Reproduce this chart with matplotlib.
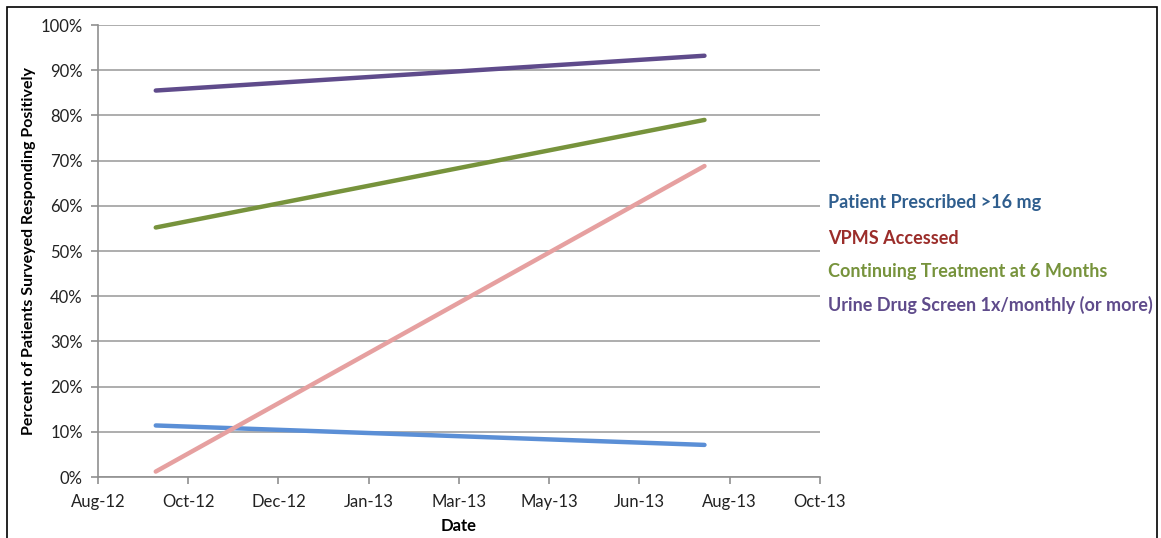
import matplotlib
matplotlib.use("Agg")
import matplotlib.pyplot as plt
import matplotlib.dates as mdates
import numpy as np
import datetime as dt

# ---- data ----
dates = [dt.date(2012, 9, 30), dt.date(2013, 7, 31)]
series_names = ["Patient Prescribed >16 mg", "VPMS Accessed",
                "Continuing Treatment at 6 Months",
                "Urine Drug Screen 1x/monthly (or more)"]
prescribed_16mg = [0.114, 0.071]
vpms_accessed = [0.012, 0.688]
continuing_6mo = [0.552, 0.790]
urine_screen = [0.855, 0.932]
y_ticks = [0.0, 0.1, 0.2, 0.3, 0.4, 0.5, 0.6, 0.7, 0.8, 0.9, 1.0]
x_start = dt.date(2012, 8, 29)
x_step_days = 50
n_x_ticks = 9

line_colors = ["#5B8FD6", "#E6A0A0", "#77933C", "#5F4B8B"]
text_colors = ["#2F5E8E", "#9B2D2A", "#77933C", "#5F4B8B"]

plt.rcParams['font.family'] = ['Lato', 'DejaVu Sans']

fig = plt.figure(figsize=(11.61, 5.38), dpi=100)
ax = fig.add_axes([98/1161, 1-477/538, (820-98)/1161, (477-25)/538])

all_series = [prescribed_16mg, vpms_accessed, continuing_6mo, urine_screen]
for vals, c in zip(all_series, line_colors):
    ax.plot(dates, vals, color=c, lw=3.2, solid_capstyle='round', zorder=3)

xticks = [x_start + dt.timedelta(days=x_step_days * i) for i in range(n_x_ticks)]
ax.set_xlim(xticks[0], xticks[-1])
ax.set_xticks(xticks)
ax.xaxis.set_major_formatter(mdates.DateFormatter('%b-%y'))
ax.set_ylim(0, 1)
ax.set_yticks(y_ticks)
ax.set_yticklabels([f"{int(round(v*100))}%" for v in y_ticks])

ax.grid(axis='y', color='#A0A0A0', lw=1.2, zorder=1)
for s in ['top', 'right']:
    ax.spines[s].set_visible(False)
for s in ['left', 'bottom']:
    ax.spines[s].set_color('#909090')
    ax.spines[s].set_linewidth(1.2)
ax.tick_params(axis='both', colors='#909090', length=5, width=1.2,
               labelsize=12, labelcolor='#222222')
ax.tick_params(axis='x', pad=7)
ax.tick_params(axis='y', pad=6)

ax.set_ylabel("Percent of Patients Surveyed Responding Positively",
              fontsize=11.5, fontweight='bold')
ax.set_xlabel("Date", fontsize=12, fontweight='bold')
ax.yaxis.set_label_coords(-62/722, 0.5)
ax.xaxis.set_label_coords(0.5, -41/452)

# legend as coloured text
leg_y = [203, 238, 272, 305]
for name, c, yy in zip(series_names, text_colors, leg_y):
    fig.text(828/1161, 1-yy/538, name, color=c, fontsize=13, fontweight='bold',
             va='center', ha='left')

# outer frame
fig.patches.append(plt.Rectangle((7/1161, -0.05), (1157-7)/1161, 1.05-7/538,
                                 transform=fig.transFigure, fill=False,
                                 edgecolor='black', lw=1.2))

fig.savefig("out.png", dpi=100)
